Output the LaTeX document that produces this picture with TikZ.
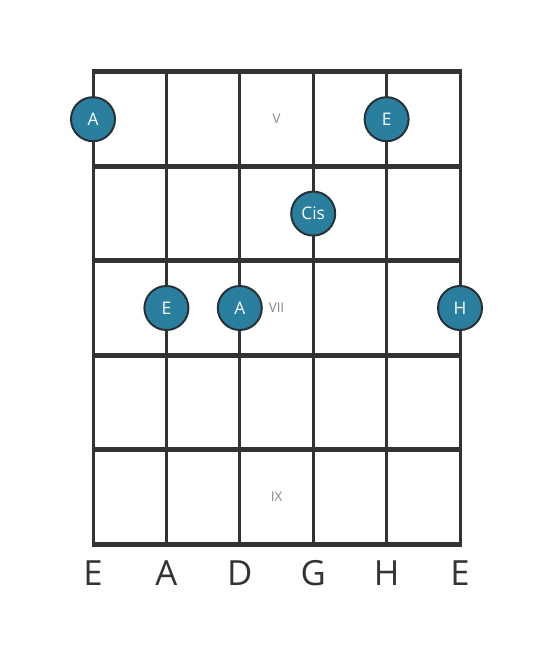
\documentclass[tikz,border=0pt]{standalone}
\usepackage{fontspec}
\setmainfont{Open Sans}
\usepackage{tikz}
\definecolor{gridgray}{HTML}{333333}
\definecolor{dotblue}{HTML}{2A7F9E}
\definecolor{dotline}{HTML}{263238}
\definecolor{fretgray}{HTML}{888888}
\newcommand*{\strx}{73.4}
\newcommand*{\frety}{94.4}
\newcommand*{\lft  }{93}
\newcommand*{\tp   }{72}

\begin{document}
\begin{tikzpicture}[x=0.75pt, y=-0.75pt,
    note/.style={circle, minimum size=44*0.75pt, inner sep=0pt, fill=dotblue, draw=dotline, line width=1.5pt, text=white, font=\fontsize{13}{15}\selectfont},
    fretnum/.style={text=fretgray, font=\fontsize{10}{12}\selectfont},
    strname/.style={text=gridgray, font=\fontsize{26}{30}\selectfont}]
    \useasboundingbox (0,0) rectangle (553,656);
        % strings
        \foreach \s in {0,...,5}
            \draw [gridgray, line width=2.25pt] (\lft+\s*\strx,\tp) -- (\lft+\s*\strx,\tp+5*\frety);
        % frets
        \foreach \f in {0,...,5}
            \draw [gridgray, line width=3.75pt] (\lft-1.5,\tp+\f*\frety) -- (\lft+5*\strx+1.5,\tp+\f*\frety);
        % fret numbers
        \node [fretnum] (fv)   at (\lft+2.5*\strx, \tp+0.5*\frety) {V};
        \node [fretnum] (fvii) at (\lft+2.5*\strx, \tp+2.5*\frety) {VII};
        \node [fretnum] (fix)  at (\lft+2.5*\strx, \tp+4.5*\frety) {IX};
        % notes
        \node [note] (nA1)  at (\lft+0*\strx, \tp+0.5*\frety) {A};
        \node [note] (nE1)  at (\lft+4*\strx, \tp+0.5*\frety) {E};
        \node [note] (nCis) at (\lft+3*\strx, \tp+1.5*\frety) {Cis};
        \node [note] (nE2)  at (\lft+1*\strx, \tp+2.5*\frety) {E};
        \node [note] (nA2)  at (\lft+2*\strx, \tp+2.5*\frety) {A};
        \node [note] (nH)   at (\lft+5*\strx, \tp+2.5*\frety) {H};
        % string names
        \node [strname] (sE1) at (\lft+0*\strx, 573) {E};
        \node [strname] (sA)  at (\lft+1*\strx, 573) {A};
        \node [strname] (sD)  at (\lft+2*\strx, 573) {D};
        \node [strname] (sG)  at (\lft+3*\strx, 573) {G};
        \node [strname] (sH)  at (\lft+4*\strx, 573) {H};
        \node [strname] (sE2) at (\lft+5*\strx, 573) {E};
    \end{tikzpicture}
\end{document}
